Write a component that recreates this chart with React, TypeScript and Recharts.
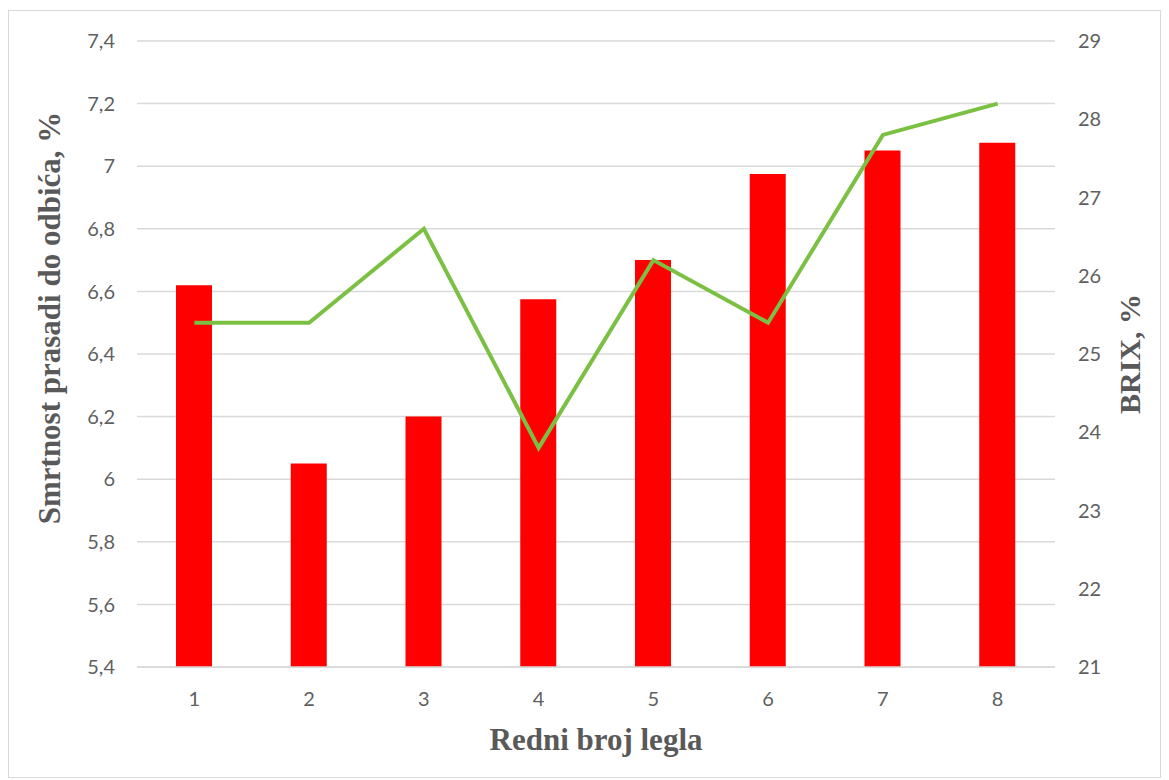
import React from 'react';
import { ComposedChart, Bar, Line, XAxis, YAxis, CartesianGrid } from 'recharts';

const litters = ['1', '2', '3', '4', '5', '6', '7', '8'];
const mortality = [6.62, 6.05, 6.2, 6.575, 6.7, 6.975, 7.05, 7.075];
const brix = [25.4, 25.4, 26.6, 23.8, 26.2, 25.4, 27.8, 28.2];
const leftTicks = [5.4, 5.6, 5.8, 6, 6.2, 6.4, 6.6, 6.8, 7, 7.2, 7.4];
const rightTicks = [21, 22, 23, 24, 25, 26, 27, 28, 29];

const data = litters.map((l, i) => ({ litter: l, mortality: mortality[i], brix: brix[i] }));

const tickStyle = { fill: '#5f5f5f', fontSize: 20, fontFamily: 'Lato, "Open Sans", sans-serif' };
const titleFont = '"Liberation Serif", "Times New Roman", serif';

const fmt = (v: number) => String(v).replace('.', ',');

const LeftTitle = (props: any) => {
  const vb = props.viewBox || {};
  const cx = 40;
  const cy = vb.y + vb.height / 2 - 36;
  return (
    <text x={cx} y={cy} transform={`rotate(-90 ${cx} ${cy})`} textAnchor="middle" dominantBaseline="central"
      fill="#595959" fontSize={31} fontWeight="bold" fontFamily={titleFont}>
      Smrtnost prasadi do odbića, %
    </text>
  );
};

const RightTitle = (props: any) => {
  const vb = props.viewBox || {};
  const cx = vb.x + 74;
  const cy = vb.y + vb.height / 2;
  return (
    <text x={cx} y={cy} transform={`rotate(-90 ${cx} ${cy})`} textAnchor="middle" dominantBaseline="central"
      fill="#595959" fontSize={30} fontWeight="bold" fontFamily={titleFont}>
      BRIX, %
    </text>
  );
};

const BottomTitle = (props: any) => {
  const vb = props.viewBox || {};
  const cx = vb.x + vb.width / 2;
  const cy = vb.y + 72;
  return (
    <text x={cx} y={cy} textAnchor="middle" dominantBaseline="central"
      fill="#595959" fontSize={31} fontWeight="bold" fontFamily={titleFont}>
      Redni broj legla
    </text>
  );
};

export default function App() {
  return (
    <div style={{ marginTop: 2, width: 1151, height: 766, border: '1px solid #d9d9d9', background: '#fff' }}>
      <ComposedChart width={1151} height={766} data={data} margin={{ top: 30, right: 0, left: 0, bottom: 0 }}>
        <CartesianGrid vertical={false} stroke="#d9d9d9" strokeWidth={1.5} yAxisId="left" />
        <XAxis dataKey="litter" height={110} tickLine={false} axisLine={{ stroke: '#d9d9d9', strokeWidth: 1.5 }}
          tick={tickStyle} tickMargin={19} label={<BottomTitle />} />
        <YAxis yAxisId="left" width={128} domain={[5.4, 7.4]} ticks={leftTicks} tickFormatter={fmt}
          axisLine={false} tickLine={false} tick={tickStyle} tickMargin={16} interval={0}
          allowDataOverflow label={<LeftTitle />} />
        <YAxis yAxisId="right" orientation="right" width={105} domain={[21, 29]} ticks={rightTicks}
          axisLine={false} tickLine={false} tick={tickStyle} tickMargin={17} interval={0}
          allowDataOverflow label={<RightTitle />} />
        <Bar yAxisId="left" dataKey="mortality" fill="#ff0000" barSize={36} isAnimationActive={false} />
        <Line yAxisId="right" dataKey="brix" stroke="#7cc043" strokeWidth={4} dot={false}
          type="linear" isAnimationActive={false} />
      </ComposedChart>
    </div>
  );
}
